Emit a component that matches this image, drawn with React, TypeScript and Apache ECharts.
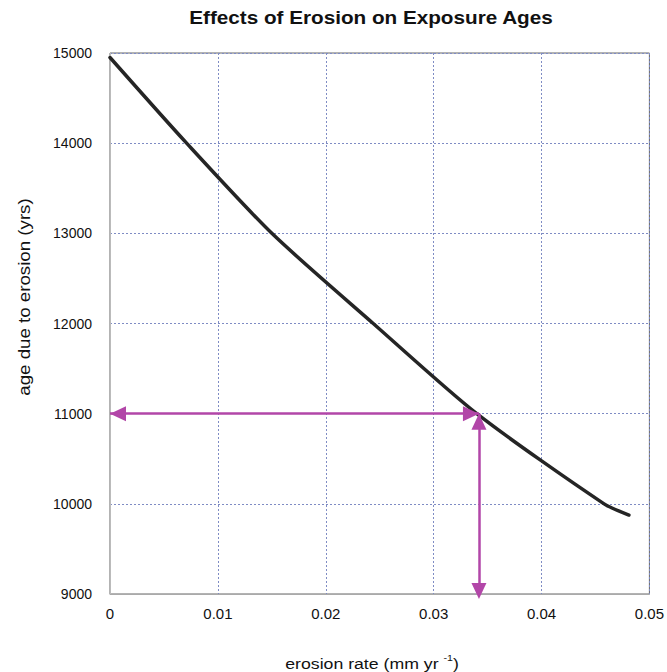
import React, { useEffect, useRef } from "react";
import * as echarts from "echarts";

// Erosion rate (mm/yr) against the apparent exposure age (yrs)
const erosionRate = [0, 0.0071, 0.015, 0.0244, 0.034, 0.0458, 0.0481];
const ageYears = [14950, 14000, 13000, 12000, 11000, 10000, 9876];

// Worked example: the age for a given erosion rate
const exampleRate = 0.0342;
const exampleAge = 11000;

const xTicks = { min: 0, max: 0.05, step: 0.01 };
const yTicks = { min: 9000, max: 15000, step: 1000 };

const FONT = "Arial, 'Liberation Sans', Helvetica, sans-serif";
const ARROW = "#b246a8";

export default function App() {
  const ref = useRef<HTMLDivElement>(null);

  useEffect(() => {
    if (!ref.current) return;
    const chart = echarts.init(ref.current, null, { renderer: "svg" });

    const points = erosionRate.map((r, i) => [r, ageYears[i]]);

    chart.setOption({
      animation: false,
      backgroundColor: "#ffffff",
      grid: {
        left: 110,
        right: 17,
        top: 53,
        bottom: 78,
        show: true,
        borderColor: "#666",
        borderWidth: 1,
        backgroundColor: "transparent",
      },
      xAxis: {
        type: "value",
        min: xTicks.min,
        max: xTicks.max,
        interval: xTicks.step,
        axisLine: { show: true, lineStyle: { color: "#aaa", width: 1 } },
        axisTick: { show: false },
        axisLabel: {
          margin: 12,
          fontFamily: FONT,
          fontSize: 15,
          color: "#111",
          formatter: (v: number) => (v === 0 ? "0" : v.toFixed(2)),
        },
        splitLine: { show: true, lineStyle: { color: "#7f8cc4", type: [2, 2], width: 1 } },
      },
      yAxis: {
        type: "value",
        min: yTicks.min,
        max: yTicks.max,
        interval: yTicks.step,
        axisLine: { show: true, lineStyle: { color: "#bbb", width: 1 } },
        axisTick: { show: false },
        axisLabel: {
          margin: 18,
          fontFamily: FONT,
          fontSize: 14,
          color: "#111",
          formatter: (v: number) => String(v),
        },
        splitLine: { show: true, lineStyle: { color: "#7f8cc4", type: [2, 2], width: 1 } },
      },
      graphic: [
        {
          // chart title
          type: "text",
          x: 371,
          y: 18,
          scaleX: 1.15,
          style: {
            text: "Effects of Erosion on Exposure Ages",
            fontFamily: FONT,
            fontSize: 18,
            fontWeight: "bold",
            fill: "#111",
            align: "center",
            verticalAlign: "middle",
          },
        },
        {
          // y-axis title
          type: "text",
          x: 24,
          y: 297,
          rotation: Math.PI / 2,
          scaleX: 1.1,
          style: {
            text: "age due to erosion (yrs)",
            fontFamily: FONT,
            fontSize: 17,
            fill: "#111",
            align: "center",
            verticalAlign: "middle",
          },
        },
        {
          // x-axis title with superscript
          type: "text",
          x: 372,
          y: 662,
          scaleX: 1.18,
          style: {
            text: "{a|erosion rate (mm yr }{s|-1}{a|)}",
            align: "center",
            verticalAlign: "middle",
            rich: {
              a: { fontFamily: FONT, fontSize: 15, fill: "#111", lineHeight: 18, verticalAlign: "bottom" },
              s: { fontFamily: FONT, fontSize: 9, fill: "#111", lineHeight: 10, verticalAlign: "top" },
            },
          },
        },
      ],
      series: [
        {
          type: "line",
          data: points,
          showSymbol: false,
          symbol: "none",
          smooth: 0.25,
          clip: false,
          lineStyle: { color: "#252525", width: 3.5, cap: "round", join: "round" },
          z: 3,
          markLine: {
            silent: true,
            symbol: ["triangle", "triangle"],
            symbolSize: [15, 16],
            symbolOffset: [[0, 8], [0, 8]],
            label: { show: false },
            lineStyle: { color: ARROW, width: 2.5, type: "solid" },
            emphasis: { disabled: true },
            z: 4,
            data: [
              [
                { coord: [exampleRate, exampleAge] },
                { coord: [xTicks.min, exampleAge] },
              ],
              [
                { coord: [exampleRate, exampleAge] },
                { coord: [exampleRate, yTicks.min], symbolOffset: [0, 3] },
              ],
            ],
          },
        },
      ],
    });

    return () => chart.dispose();
  }, []);

  return (
    <div
      ref={ref}
      style={{ position: "fixed", left: 0, top: 0, width: 667, height: 672 }}
    />
  );
}
